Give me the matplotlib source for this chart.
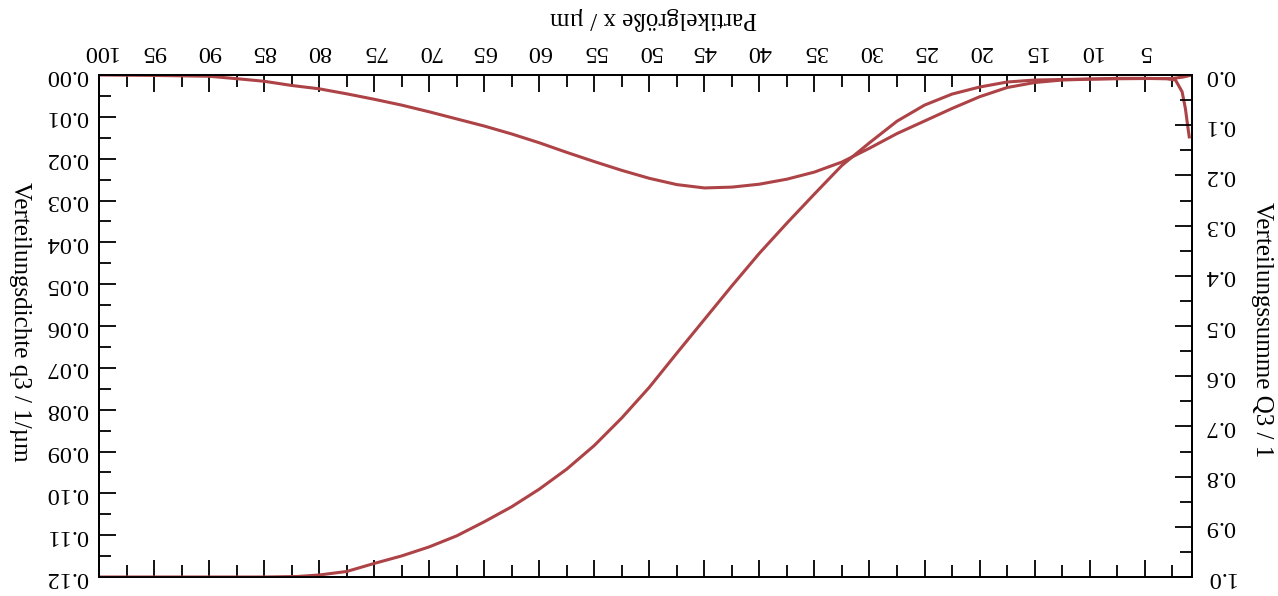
import matplotlib
matplotlib.use("Agg")
import matplotlib.pyplot as plt
from matplotlib.ticker import MultipleLocator, FormatStrFormatter

plt.rcParams["font.family"] = ["Liberation Serif", "DejaVu Serif"]

# Verteilungsdichte q3 (left axis)
x_q3 = [100, 95, 90, 87, 85, 82.5, 80, 77.5, 75, 72.5, 70, 67.5, 65, 62.5, 60,
        57.5, 55, 52.5, 50, 47.5, 45, 42.5, 40, 37.5, 35, 32.5, 30, 27.5, 25,
        22.5, 20, 17.5, 15, 12.5, 10, 7.5, 5, 3, 2.2, 1.6, 1.3, 1.1, 0.95]
q3 = [0.0000, 0.0001, 0.0003, 0.0010, 0.0015, 0.0025, 0.0033, 0.0045, 0.0058,
      0.0072, 0.0088, 0.0105, 0.0122, 0.0141, 0.0162, 0.0185, 0.0207, 0.0228,
      0.0247, 0.0262, 0.0270, 0.0268, 0.0261, 0.0249, 0.0232, 0.0208, 0.0175,
      0.0140, 0.0110, 0.0080, 0.0052, 0.0030, 0.0018, 0.0012, 0.0010, 0.0008,
      0.0008, 0.0009, 0.0012, 0.0040, 0.0080, 0.0120, 0.0148]

# Verteilungssumme Q3 (right axis)
x_Q3 = [100, 85, 82, 80, 77.5, 75, 72.5, 70, 67.5, 65, 62.5, 60, 57.5, 55,
        52.5, 50, 47.5, 45, 42.5, 40, 37.5, 35, 32.5, 30, 27.5, 25, 22.5, 20,
        17.5, 15, 10, 5, 2.5, 1.5, 0.9, 0.7]
Q3 = [1.0, 1.0, 0.999, 0.996, 0.989, 0.973, 0.958, 0.940, 0.918, 0.890, 0.860,
      0.825, 0.785, 0.738, 0.683, 0.622, 0.554, 0.487, 0.420, 0.355, 0.295,
      0.237, 0.180, 0.135, 0.092, 0.060, 0.038, 0.024, 0.014, 0.010, 0.008,
      0.007, 0.007, 0.004, 0.001, 0.0]

line_color = "#ad4346"

fig = plt.figure(figsize=(12.78, 5.96), dpi=100)
ax = fig.add_axes([99 / 1278, 1 - 577 / 596, (1192 - 99) / 1278, (577 - 75) / 596])
ax2 = ax.twinx()

ax.plot(x_q3, q3, color=line_color, lw=2.2)
ax2.plot(x_Q3, Q3, color=line_color, lw=2.2)

# the scan is upside down: x runs right-to-left, y top-to-bottom
ax.set_xlim(100, 0.7)
ax.set_ylim(0.12, 0)
ax2.set_ylim(1.0, 0)

ax.xaxis.set_major_locator(MultipleLocator(5))
ax.xaxis.set_minor_locator(MultipleLocator(2.5))
ax.yaxis.set_major_locator(MultipleLocator(0.01))
ax.yaxis.set_minor_locator(MultipleLocator(0.005))
ax.yaxis.set_major_formatter(FormatStrFormatter("%.2f"))
ax2.yaxis.set_major_locator(MultipleLocator(0.1))
ax2.yaxis.set_minor_locator(MultipleLocator(0.05))
ax2.yaxis.set_major_formatter(FormatStrFormatter("%.1f"))

ax.tick_params(axis="x", which="both", direction="in", top=True, bottom=True,
               labeltop=True, labelbottom=False, labelrotation=180, pad=9,
               labelsize=17.5)
ax.tick_params(axis="y", which="both", direction="in", left=True, right=False,
               labelrotation=180, pad=8, labelsize=17.5)
ax2.tick_params(axis="y", which="both", direction="in", right=True,
                labelrotation=180, pad=9, labelsize=17.5)
for a in (ax, ax2):
    a.tick_params(which="major", length=12, width=1.3)
    a.tick_params(which="minor", length=8.5, width=1.3)
    for s in a.spines.values():
        s.set_linewidth(1.3)
for lab in ax.get_yticklabels() + ax2.get_yticklabels():
    lab.set_va("center")

fig.text(653 / 1278, 1 - 18 / 596, "Partikelgröße x / µm", rotation=180,
         ha="center", va="center", fontsize=18)
fig.text(20 / 1278, 1 - 322 / 596, "Verteilungsdichte q3 / 1/µm", rotation=270,
         ha="center", va="center", fontsize=18)
fig.text(1262 / 1278, 1 - 330 / 596, "Verteilungssumme Q3 / 1", rotation=270,
         ha="center", va="center", fontsize=18)

fig.savefig("out.png", dpi=100)
